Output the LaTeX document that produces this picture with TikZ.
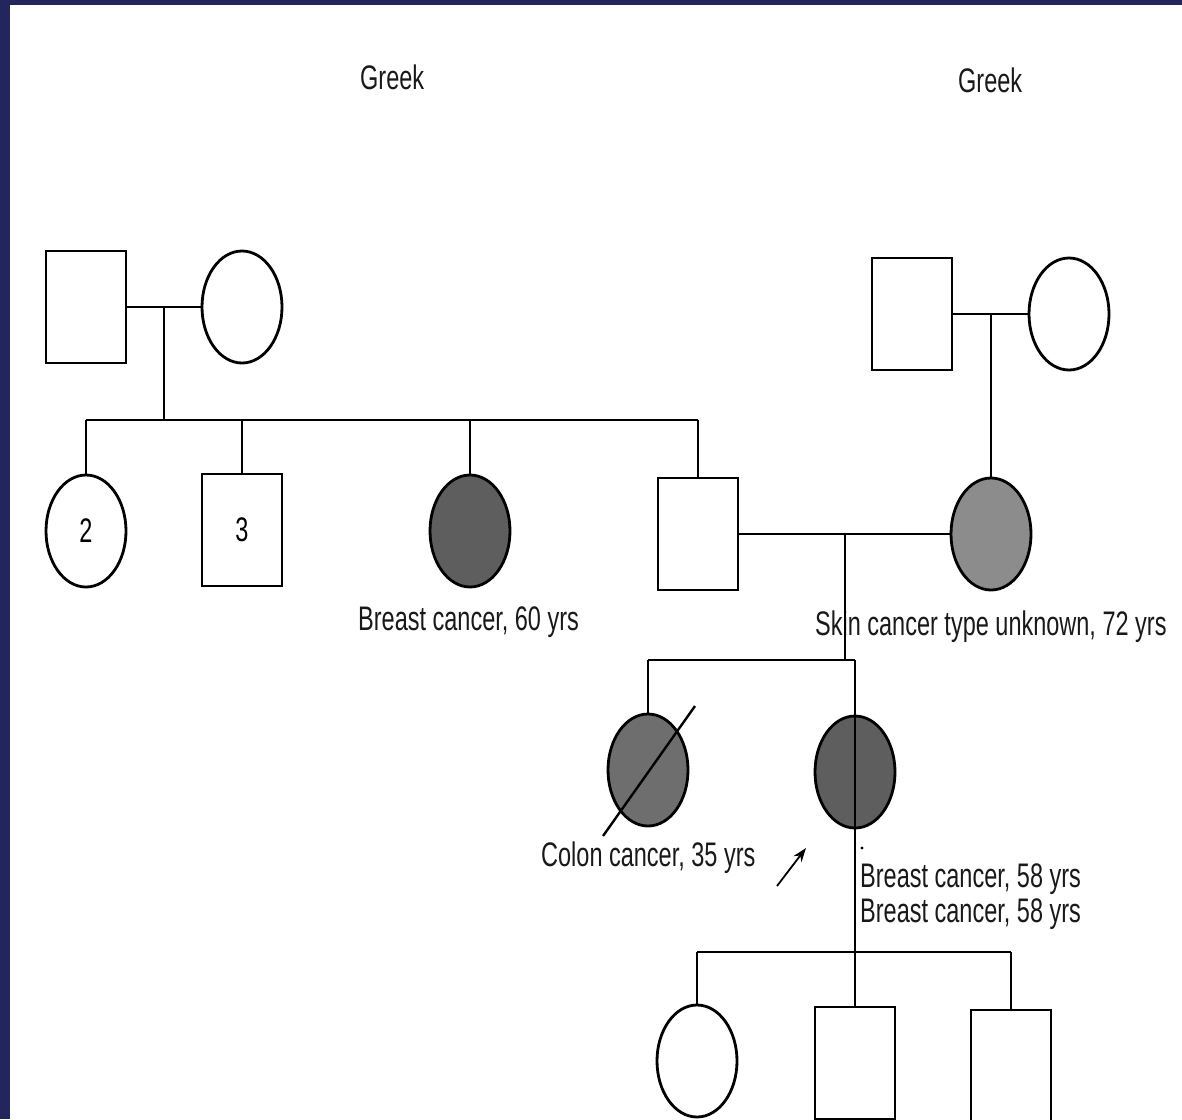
\documentclass[tikz,border=0pt]{standalone}
\usepackage{fontspec}
\setmainfont{Liberation Sans}
\usetikzlibrary{shapes.geometric,arrows.meta,calc}
\definecolor{navy}{HTML}{23265C}
\definecolor{darkfill}{HTML}{5E5E5E}
\definecolor{skinfill}{HTML}{8C8C8C}
\definecolor{colonfill}{HTML}{6E6E6E}
\newcommand{\lbl}[1]{\scalebox{1}[1.45]{#1}}
\tikzset{
  male/.style={draw,line width=2.8pt,rectangle,minimum width=80pt,minimum height=112pt,inner sep=0pt,fill=white,font=\fontsize{23.5}{28}\selectfont},
  female/.style={draw,line width=2.8pt,ellipse,minimum width=80pt,minimum height=112pt,inner sep=0pt,fill=white,font=\fontsize{23.5}{28}\selectfont},
  conn/.style={line width=1.6pt},
  txt/.style={inner sep=0pt,font=\fontsize{23.5}{28}\selectfont,text=black!90},
}
\begin{document}
\begin{tikzpicture}[x=1pt,y=-1pt]
\useasboundingbox (0,0) rectangle (1182,1119);
\clip (0,0) rectangle (1182,1119);
\fill[white] (0,0) rectangle (1182,1119);
\fill[navy] (0,0) rectangle (10,1119);
\fill[navy] (0,0) rectangle (1182,5);

% Generation I, left
\node[male] (f1) at (86,307) {};
\node[female] (m1) at (242,307) {};
\draw[conn] (f1.east) -- (m1.west);
\coordinate (d1) at (164,307);
\coordinate (s1) at (164,420);
\draw[conn] (d1) -- (s1);

% Generation II, left sibship
\node[female] (c1) at (86,531) {\lbl{2}};
\node[male] (c2) at (242,530) {\lbl{3}};
\node[female,fill=darkfill] (c3) at (470,531) {};
\node[male] (c4) at (698,534) {};
\draw[conn] (c1.north |- s1) -- (c4.north |- s1);
\foreach \c in {c1,c2,c3,c4} \draw[conn] (\c.north) -- (\c.north |- s1);

% Generation I, right
\node[male] (f2) at (912,314) {};
\node[female] (m2) at (1069,314) {};
\draw[conn] (f2.east) -- (m2.west);
\coordinate (d2) at (991,314);
\node[female,fill=skinfill] (c5) at (991,534) {};
\draw[conn] (d2) -- (c5.north);

% Marriage generation II
\draw[conn] (c4.east) -- (c5.west);
\coordinate (d3) at (845,534);
\coordinate (s2) at (845,660);

% Texts
\node[txt,anchor=base west] (greek1) at (360,89) {\lbl{Greek}};
\node[txt,anchor=base west] (greek2) at (958,92) {\lbl{Greek}};
\node[txt,anchor=base west] (t1) at (358,630) {\lbl{Breast cancer, 60 yrs}};
\node[txt,anchor=base west] (t2) at (815,635) {\lbl{Skin cancer type unknown, 72 yrs}};

\draw[conn] (d3) -- (s2);

% Generation III
\node[female,fill=colonfill] (g1) at (648,770) {};
\node[female,fill=darkfill] (g2) at (855,772) {};
\draw[conn] (g1.north |- s2) -- (g2.north |- s2);
\draw[conn] (g1.north) -- (g1.north |- s2);
\coordinate (x1) at (603,836);
\coordinate (x2) at (695,706);
\draw[line width=2.4pt] (x1) -- (x2);
\node[txt,anchor=base west] (t3) at (541,866) {\lbl{Colon cancer, 35 yrs}};
\coordinate (a1) at (777,886);
\coordinate (a2) at (806,848);
\draw[line width=1.8pt,-{Stealth[length=14pt,width=10pt]}] (a1) -- (a2);
\fill (862,848) circle (1.6pt);
\node[txt,anchor=base west] (t4) at (860,887) {\lbl{Breast cancer, 58 yrs}};
\node[txt,anchor=base west] (t5) at (860,922) {\lbl{Breast cancer, 58 yrs}};

% Generation IV
\coordinate (s3) at (855,952);
\node[female] (h1) at (697,1061) {};
\node[male] (h2) at (855,1063) {};
\node[male] (h3) at (1011,1066) {};
\draw[conn] (h1.north |- s3) -- (h3.north |- s3);
\draw[conn] (h1.north) -- (h1.north |- s3);
\draw[conn] (h3.north) -- (h3.north |- s3);
\draw[conn] (g2.north |- s2) -- (h2.north);
\end{tikzpicture}
\end{document}
